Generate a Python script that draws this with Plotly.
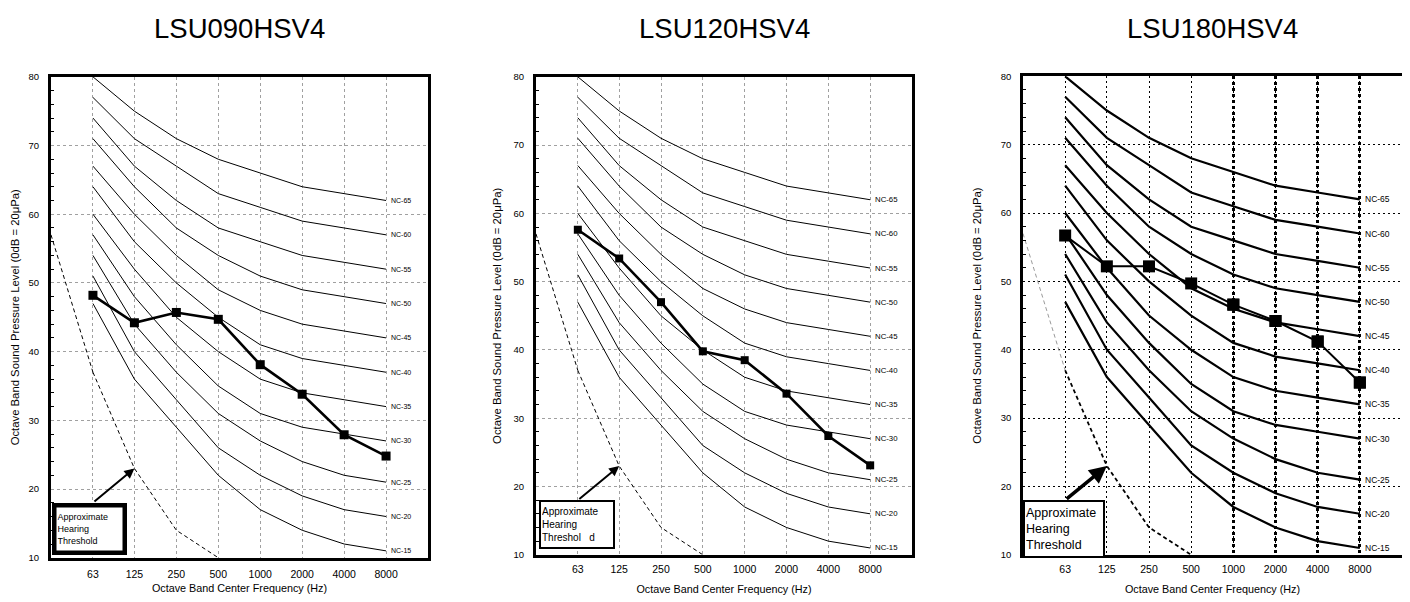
import numpy as np
import plotly.graph_objects as go

# ---------------- data ----------------
FREQS = [63, 125, 250, 500, 1000, 2000, 4000, 8000]
FREQ_LABELS = ["63", "125", "250", "500", "1000", "2000", "4000", "8000"]

NC_NAMES = ["NC-15", "NC-20", "NC-25", "NC-30", "NC-35", "NC-40",
            "NC-45", "NC-50", "NC-55", "NC-60", "NC-65"]
NC_15 = [47, 36, 29, 22, 17, 14, 12, 11]
NC_20 = [51, 40, 33, 26, 22, 19, 17, 16]
NC_25 = [54, 44, 37, 31, 27, 24, 22, 21]
NC_30 = [57, 48, 41, 35, 31, 29, 28, 27]
NC_35 = [60, 52, 45, 40, 36, 34, 33, 32]
NC_40 = [64, 56, 50, 45, 41, 39, 38, 37]
NC_45 = [67, 60, 54, 49, 46, 44, 43, 42]
NC_50 = [71, 64, 58, 54, 51, 49, 48, 47]
NC_55 = [74, 67, 62, 58, 56, 54, 53, 52]
NC_60 = [77, 71, 67, 63, 61, 59, 58, 57]
NC_65 = [80, 75, 71, 68, 66, 64, 63, 62]
NC_CURVES = [NC_15, NC_20, NC_25, NC_30, NC_35, NC_40, NC_45, NC_50, NC_55, NC_60, NC_65]

THRESH_FREQS = [31.5, 63, 125, 250, 500]
THRESH_VALS = [57, 37, 23, 14, 10]

TITLES = ["LSU090HSV4", "LSU120HSV4", "LSU180HSV4"]
LSU090 = [48.2, 44.2, 45.7, 44.7, 38.1, 33.8, 27.9, 24.8]
LSU120 = [57.6, 53.4, 47.0, 39.8, 38.5, 33.6, 27.4, 23.1]
LSU180 = [56.7, 52.2, 52.2, 49.7, 46.6, 44.2, 41.2, 35.2]
SERIES = [LSU090, LSU120, LSU180]

BOX_TEXTS = ["Approximate<br>Hearing<br>Threshold",
             "Approximate<br>Hearing<br>Threshol\u00a0\u00a0\u00a0d",
             "Approximate<br>Hearing<br>Threshold"]

Y_TITLE = "Octave Band Sound Pressure Level (0dB = 20\u03bcPa)"
X_TITLE = "Octave Band Center Frequency (Hz)"

# ---------------- styling ----------------
OFF = 8                      # page body margin of the html page
PAGE_W, PAGE_H = 1410, 602
W, H = PAGE_W - OFF, PAGE_H - OFF
FONT = "Liberation Sans, Arial, Helvetica, sans-serif"

# pixel geometry (page coords) per panel: left, right, top, bottom
GEOM = [(51, 428, 72, 562), (536, 912, 72, 559), (1023, 1402, 71.5, 559)]

STY = [
    dict(frame=3, grid="#a0a0a0", griddash="3px,3px", nc_w=1.0, nc_font=7,
         s_w=2.6, m_size=9, th_w=1, th_first="black", th_first_w=1,
         box_bw=4.5, box_font=9, box_w=64, box_h=41, box_dx=1,
         arrow_w=2, xstand=5, xtitle_stand=6, ytitle_stand=7),
    dict(frame=3, grid="#a0a0a0", griddash="3px,3px", nc_w=1.0, nc_font=7.8,
         s_w=2.6, m_size=8, th_w=1, th_first="black", th_first_w=1,
         box_bw=2, box_font=10, box_w=70, box_h=43, box_dx=3,
         arrow_w=2, xstand=3, xtitle_stand=12, ytitle_stand=10),
    dict(frame=2.5, grid="#000000", griddash="2px,3px", nc_w=2.2, nc_font=8.5,
         s_w=2, m_size=12, th_w=1.8, th_first="#9a9a9a", th_first_w=1,
         box_bw=2, box_font=12.5, box_w=76, box_h=52, box_dx=0,
         arrow_w=3.5, xstand=3, xtitle_stand=12, ytitle_stand=17),
]

XRANGE = [np.log10(31.5), np.log10(16000)]

fig = go.Figure()
layout = dict(width=W, height=H, margin=dict(l=0, r=0, t=0, b=0),
              paper_bgcolor="white", plot_bgcolor="white", showlegend=False,
              annotations=[])

for i in range(3):
    st = STY[i]
    left, right, top, bottom = [v - OFF for v in GEOM[i]]
    n = "" if i == 0 else str(i + 1)
    xa, ya = "x" + n, "y" + n

    # NC curves
    for name, curve in zip(NC_NAMES, NC_CURVES):
        fig.add_trace(go.Scatter(x=FREQS, y=curve, mode="lines", xaxis=xa, yaxis=ya,
                                 line=dict(color="black", width=st["nc_w"]),
                                 hoverinfo="skip"))
        layout["annotations"].append(dict(
            x=np.log10(FREQS[-1]), y=curve[-1], xref=xa, yref=ya, text=name,
            showarrow=False, xanchor="left", yanchor="middle", xshift=3,
            font=dict(family=FONT, size=st["nc_font"], color="black")))

    # hearing threshold (first segment, then the rest)
    fig.add_trace(go.Scatter(x=THRESH_FREQS[:2], y=THRESH_VALS[:2], mode="lines",
                             xaxis=xa, yaxis=ya,
                             line=dict(color=st["th_first"], width=st["th_first_w"], dash="4px,3px"),
                             hoverinfo="skip"))
    fig.add_trace(go.Scatter(x=THRESH_FREQS[1:], y=THRESH_VALS[1:], mode="lines",
                             xaxis=xa, yaxis=ya,
                             line=dict(color="black", width=st["th_w"], dash="4px,3px"),
                             hoverinfo="skip"))

    # measured series
    fig.add_trace(go.Scatter(x=FREQS, y=SERIES[i], mode="lines+markers", xaxis=xa, yaxis=ya,
                             line=dict(color="black", width=st["s_w"]),
                             marker=dict(symbol="square", size=st["m_size"], color="black")))

    dom_x = [left / W, right / W]
    dom_y = [1 - bottom / H, 1 - top / H]
    layout["xaxis" + n] = dict(
        domain=dom_x, type="log", range=XRANGE, anchor=ya,
        tickvals=FREQS, ticktext=FREQ_LABELS, ticks="", ticklabelstandoff=st["xstand"],
        showgrid=True, gridcolor=st["grid"], griddash=st["griddash"], gridwidth=1,
        showline=True, linecolor="black", linewidth=st["frame"], mirror=True,
        zeroline=False, tickfont=dict(family=FONT, size=10.5, color="black"),
        title=dict(text=X_TITLE, standoff=st["xtitle_stand"],
                   font=dict(family=FONT, size=10.8, color="black")),
    )
    layout["yaxis" + n] = dict(
        domain=dom_y, range=[10, 80], anchor=xa, dtick=10, ticks="",
        showgrid=True, gridcolor=st["grid"], griddash=st["griddash"], gridwidth=1,
        showline=True, linecolor="black", linewidth=st["frame"], mirror=True,
        zeroline=False, ticklabelstandoff=7,
        minor=dict(dtick=2, ticks="inside", ticklen=3, tickcolor="black", showgrid=False),
        tickfont=dict(family=FONT, size=9.5, color="black"),
        title=dict(text=Y_TITLE, standoff=st["ytitle_stand"],
                   font=dict(family=FONT, size=11.3, color="black")),
    )

    # title
    layout["annotations"].append(dict(
        x=0.5, y=1 - (23 - OFF) / H, xref=xa + " domain", yref="paper", text=TITLES[i],
        showarrow=False, xanchor="center", yanchor="middle",
        font=dict(family=FONT, size=27.5, color="black")))

    # box with label
    layout["annotations"].append(dict(
        x=0, y=18, xref=xa + " domain", yref=ya, text=BOX_TEXTS[i], showarrow=False,
        xanchor="left", yanchor="top", xshift=st["box_dx"], align="left", valign="middle",
        width=st["box_w"], height=st["box_h"], bgcolor="white", bordercolor="black",
        borderwidth=st["box_bw"], borderpad=1,
        font=dict(family=FONT, size=st["box_font"], color="black")))

    # arrow pointing to the threshold curve at 125 Hz
    layout["annotations"].append(dict(
        x=np.log10(THRESH_FREQS[2]), y=THRESH_VALS[2], xref=xa, yref=ya,
        ax=np.log10(FREQS[0]), ay=18, axref=xa, ayref=ya, text="",
        showarrow=True, arrowhead=2, arrowsize=1, arrowwidth=st["arrow_w"], arrowcolor="black"))

# thick dotted vertical grid for third panel (1000 Hz and above)
layout["xaxis4"] = dict(
    domain=layout["xaxis3"]["domain"], type="log", range=XRANGE, overlaying="x3", anchor="y3",
    tickvals=FREQS[4:], showticklabels=False, ticks="", showgrid=True,
    gridcolor="black", griddash="3px,3px", gridwidth=3, showline=False, zeroline=False)
fig.add_trace(go.Scatter(x=FREQS[4:], y=LSU180[4:], xaxis="x4", yaxis="y3", mode="markers",
                         marker=dict(size=12, color="black", symbol="square"), hoverinfo="skip"))

fig.update_layout(**layout)
fig.write_html("out.html")
